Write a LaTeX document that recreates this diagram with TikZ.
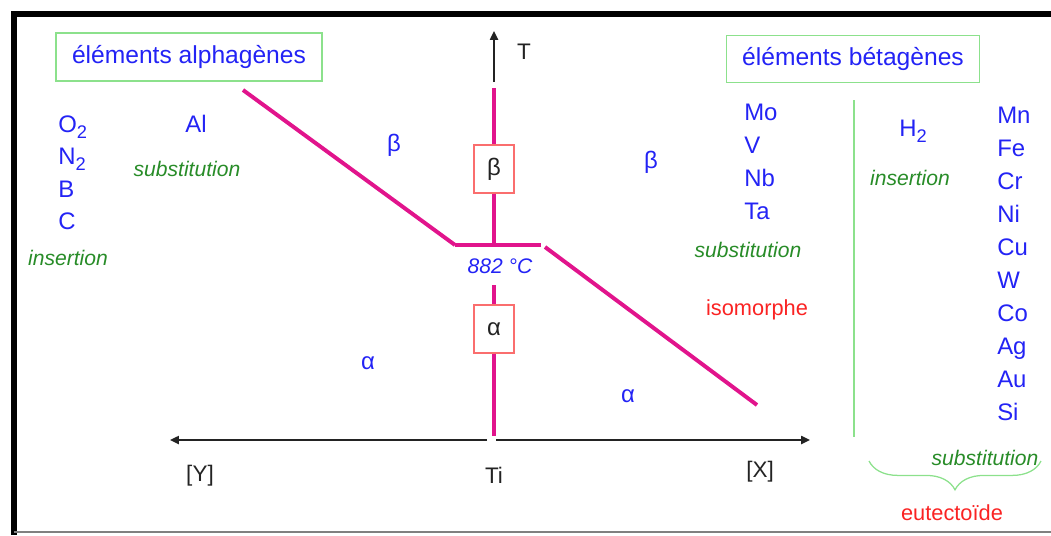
\documentclass[tikz,border=0pt]{standalone}
\usepackage{fontspec}
\setmainfont{Liberation Sans}
\usetikzlibrary{arrows.meta,decorations.pathreplacing}
\definecolor{elemblue}{RGB}{35,35,245}
\definecolor{notegreen}{RGB}{40,140,40}
\definecolor{framegreen}{RGB}{140,225,140}
\definecolor{phasemag}{RGB}{225,20,140}
\definecolor{notered}{RGB}{250,35,35}
\definecolor{boxred}{RGB}{250,110,110}
\definecolor{axisgray}{RGB}{35,35,35}
\newcommand{\lowtwo}{\raisebox{-4.5pt}{\fontsize{13}{14}\selectfont 2}}

\begin{document}
\begin{tikzpicture}[
  x=0.025cm,y=-0.025cm,
  family/.style={draw=framegreen,line width=0.8pt,text=elemblue,inner sep=0pt,font=\fontsize{17.5}{20}\selectfont},
  elem/.style={text=elemblue,inner sep=0pt,font=\fontsize{17}{20}\selectfont},
  mode/.style={text=notegreen,inner sep=0pt,font=\fontsize{15}{18}\selectfont\itshape},
  kind/.style={text=notered,inner sep=0pt,font=\fontsize{15.5}{18}\selectfont},
  phase/.style={text=elemblue,inner sep=0pt,font=\fontsize{17}{20}\selectfont},
  phasebox/.style={draw=boxred,line width=0.8pt,minimum width=1cm,minimum height=1.2cm,inner sep=0pt,text=axisgray,font=\fontsize{17}{20}\selectfont},
  axislabel/.style={text=axisgray,inner sep=0pt,font=\fontsize{16}{19}\selectfont},
  transus/.style={phasemag,line width=2.8pt},
  axis/.style={axisgray,line width=1.3pt,-{Triangle[length=2.2mm,width=2mm]}},
  divider/.style={framegreen,line width=0.9pt}
]
  \useasboundingbox (0,0) rectangle (1051,535);
  % frame
  \draw[black,line width=3.6pt] (14,535) -- (14,14) -- (1051,14);
  \draw[gray,line width=1pt] (14,532) -- (1051,532);

  % families
  \node[family,minimum width=6.65cm,minimum height=1.2cm] (alphagen) at (189,57) {éléments alphagènes};
  \node[family,minimum width=6.33cm,minimum height=1.18cm] (betagen) at (853,59) {éléments bétagènes};

  % element lists
  \foreach \el [count=\i] in {O\lowtwo,N\lowtwo,B,C}
    \node[elem,anchor=base west] (alpha-\i) at (58,{132+32.5*(\i-1)}) {\el};
  \foreach \el [count=\i] in {Mo,V,Nb,Ta}
    \node[elem,anchor=base west] (iso-\i) at (744,{120.5+33*(\i-1)}) {\el};
  \foreach \el [count=\i] in {Mn,Fe,Cr,Ni,Cu,W,Co,Ag,Au,Si}
    \node[elem,anchor=base west] (eut-\i) at (997,{123.5+33.05*(\i-1)}) {\el};
  \node[elem] (al) at (196,124) {Al};
  \node[elem,anchor=base west] (hyd) at (899,136) {H\lowtwo};

  \node[mode] (alphains) at (68,258) {insertion};
  \node[mode] (alphasub) at (187,169) {substitution};
  \node[mode] (isosub) at (748,250) {substitution};
  \node[mode] (hydins) at (910,178) {insertion};
  \node[mode] (eutsub) at (985,458) {substitution};
  \node[kind,anchor=base] (isomorph) at (757,315) {isomorphe};
  \node[kind] (eutectoid) at (952,513) {eutectoïde};

  % phase diagram
  \coordinate (ttop) at (494,88);
  \coordinate (tmid) at (494,245);
  \coordinate (tlow) at (494,285);
  \coordinate (tbot) at (494,436);
  \coordinate (tl) at (455,245);
  \coordinate (tr) at (541,245);
  \coordinate (alinetop) at (243,90);
  \coordinate (blinetop) at (545,247);
  \coordinate (blineend) at (757,405);
  \node[phasebox] (betaph) at (494,169) {β};
  \node[phasebox] (alphaph) at (494,329) {α};
  \node[text=elemblue,inner sep=0pt,font=\fontsize{15}{18}\selectfont\itshape] (transt) at (500,266) {882 °C};

  \draw[transus] (ttop) -- (betaph) (betaph) -- (tmid);
  \draw[transus] (tlow) -- (alphaph) (alphaph) -- (tbot);
  \draw[transus] (tl) -- (tr);
  \draw[transus] (alinetop) -- (tl);
  \draw[transus] (blinetop) -- (blineend);

  \node[phase] (betaA) at (394,145) {β};
  \node[phase] (betaB) at (651,162) {β};
  \node[phase] (alphaA) at (368,363) {α};
  \node[phase] (alphaB) at (628,396) {α};

  % axes
  \coordinate (tstart) at (494,82);
  \coordinate (tend) at (494,31);
  \coordinate (orgl) at (487,440);
  \coordinate (orgr) at (496,440);
  \coordinate (yend) at (170,440);
  \coordinate (xend) at (810,440);
  \draw[axis] (tstart) -- (tend);
  \draw[axis] (orgl) -- (yend);
  \draw[axis] (orgr) -- (xend);
  \node[axislabel] (tlabel) at (524,52) {T};
  \node[axislabel] (ti) at (494,475) {Ti};
  \node[axislabel] (ylabel) at (200,476) {[Y]};
  \node[axislabel] (xlabel) at (760,472) {[X]};

  % beta side divider and brace
  \coordinate (divtop) at (854,100);
  \coordinate (divbot) at (854,437);
  \coordinate (braceL) at (869,461);
  \coordinate (braceR) at (1041,461);
  \draw[divider] (divtop) -- (divbot);
  \draw[divider,decorate,decoration={brace,mirror,amplitude=0.72cm,aspect=0.5}] (braceL) -- (braceR);
\end{tikzpicture}
\end{document}
